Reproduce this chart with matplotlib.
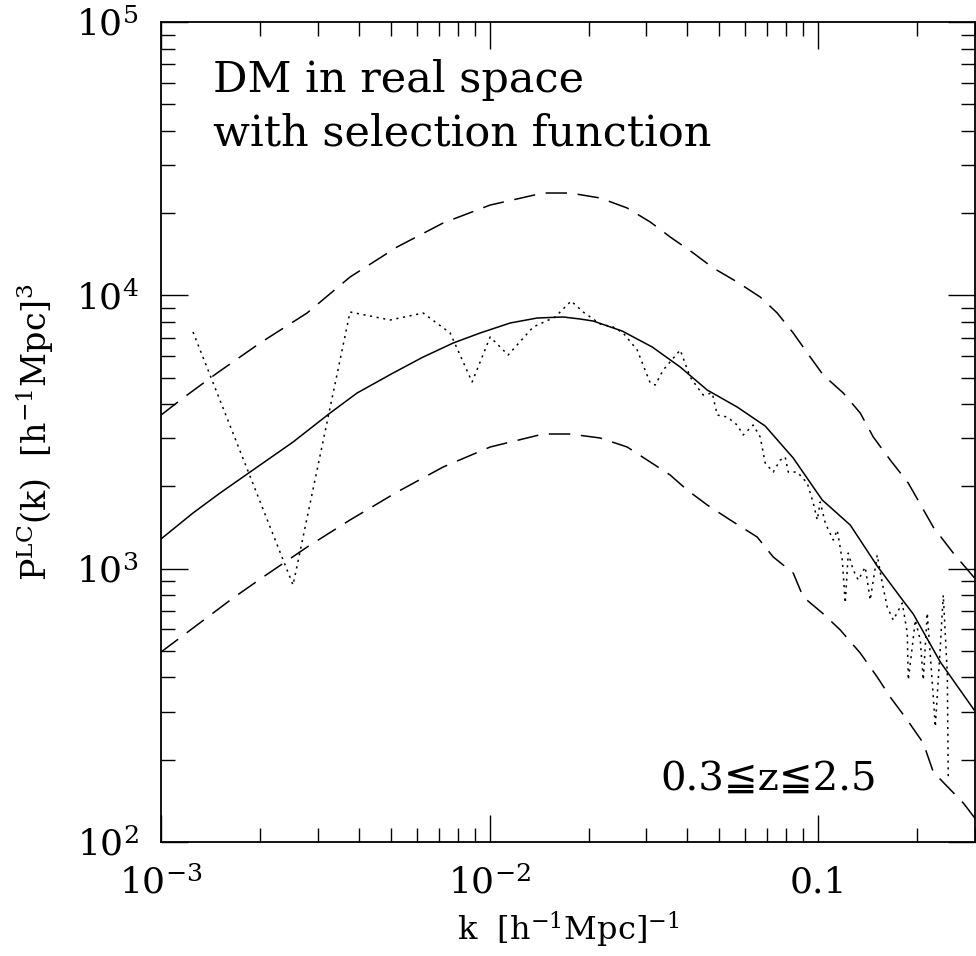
import matplotlib
matplotlib.use("Agg")
import matplotlib.pyplot as plt

plt.rcParams['font.family'] = ['DejaVu Serif', 'DejaVu Sans']
plt.rcParams['mathtext.fontset'] = 'dejavuserif'

# modelo (linea continua)
k_model = [0.001, 0.001251, 0.001512, 0.001866, 0.002522, 0.003269, 0.003951, 0.005083,
           0.006275, 0.007744, 0.009357, 0.011545, 0.013951, 0.016741, 0.018859, 0.020655,
           0.025306, 0.031246, 0.038010, 0.045937, 0.056667, 0.068965, 0.083923, 0.10285,
           0.12515, 0.15118, 0.18148, 0.19458, 0.23518, 0.30269]
p_model = [1285, 1599, 1892, 2258, 2908, 3712, 4395, 5200,
           5950, 6695, 7286, 7925, 8266, 8337, 8196, 8058,
           7408, 6474, 5470, 4506, 3905, 3327, 2541, 1784,
           1445, 1023, 762, 683, 456, 296.5]

# banda superior / inferior (discontinuas)
k_upper = [0.001, 0.001167, 0.001481, 0.002001, 0.002782, 0.003760, 0.005228, 0.007218,
           0.010035, 0.014551, 0.017583, 0.021700, 0.026215, 0.030811, 0.035435, 0.041641,
           0.047918, 0.056667, 0.066578, 0.075026, 0.083923, 0.094537, 0.10356, 0.11915,
           0.13422, 0.14705, 0.16565, 0.18793, 0.22393, 0.25763, 0.30269]
p_upper = [3650, 4213, 5200, 6695, 8621, 11676, 15035, 18404,
           21408, 23692, 23692, 22714, 20882, 18561, 16357, 14296,
           12596, 11195, 9865, 8621, 7286, 5950, 5113, 4395,
           3712, 3034, 2498, 2058, 1420, 1141, 909]

k_lower = [0.001, 0.001656, 0.002044, 0.002782, 0.003760, 0.005228, 0.007218, 0.010035,
           0.014551, 0.017583, 0.021700, 0.026215, 0.030811, 0.035435, 0.039912, 0.045937,
           0.053964, 0.065199, 0.072946, 0.083923, 0.090016, 0.10285, 0.11668, 0.13422,
           0.15118, 0.16565, 0.18661, 0.20874, 0.22393, 0.27640, 0.30269]
p_lower = [495.7, 781, 932, 1200, 1508, 1908, 2356, 2788,
           3111, 3111, 3008, 2788, 2457, 2202, 1941, 1711,
           1508, 1306, 1104, 964, 788, 689, 597, 491.5,
           401.6, 339, 279.6, 230.3, 180.4, 138.9, 120.4]

# medida (linea punteada)
k_data = [0.001251, 0.002522, 0.003760, 0.004978, 0.006275, 0.007583, 0.008844, 0.010035,
          0.011383, 0.013567, 0.015826, 0.017703, 0.019259, 0.021700, 0.023768, 0.025488,
          0.028119, 0.030811, 0.031909, 0.033753, 0.038010, 0.040764, 0.042813, 0.044668,
          0.047577, 0.049271, 0.052845, 0.056667, 0.059105, 0.063387, 0.066578, 0.068965,
          0.072946, 0.076616, 0.079348, 0.081047, 0.086320, 0.092576, 0.096562, 0.099311,
          0.10141, 0.10502, 0.11109, 0.11426, 0.11833, 0.12084, 0.12339, 0.12778,
          0.13235, 0.13899, 0.14394, 0.15118, 0.15656, 0.16218, 0.16916, 0.18019,
          0.18661, 0.18793, 0.19324, 0.19739, 0.20441, 0.20874, 0.21468, 0.22393,
          0.22711, 0.23518, 0.24016, 0.24701, 0.24872]
p_data = [7347, 871.6, 8696, 8128, 8621, 7286, 4822, 7045,
          6053, 7663, 8337, 9539, 8696, 7859, 7663, 7286,
          6313, 4781, 4701, 5334, 6313, 5028, 4622, 4322,
          4395, 3650, 3590, 3356, 3085, 3356, 3034, 2436,
          2258, 2498, 2562, 2258, 2258, 2058, 1740, 1508,
          1754, 1470, 1274, 1385, 1076, 749, 1141, 989,
          909, 1014, 768, 1122, 887, 724, 649, 749,
          582, 391.6, 517, 649, 548, 391.6, 689, 339,
          264, 517, 801, 415, 168.6]

xticks = [1e-3, 1e-2, 0.1]
xticklabels = [r'$10^{-3}$', r'$10^{-2}$', '0.1']
yticks = [1e2, 1e3, 1e4, 1e5]
yticklabels = [r'$10^{2}$', r'$10^{3}$', r'$10^{4}$', r'$10^{5}$']

fig = plt.figure(figsize=(9.76, 9.56), dpi=100)
ax = fig.add_axes([0.165, 0.1192, 0.834, 0.8577])

ax.plot(k_model, p_model, color='black', lw=1.1)
ax.plot(k_upper, p_upper, color='black', lw=1.1, dashes=(14, 7))
ax.plot(k_lower, p_lower, color='black', lw=1.1, dashes=(14, 7))
ax.plot(k_data, p_data, color='black', lw=1.1, dashes=(1.4, 3.0))

ax.set_xscale('log')
ax.set_yscale('log')
ax.set_xlim(1e-3, 0.3)
ax.set_ylim(1e2, 1e5)
ax.set_xticks(xticks)
ax.set_xticklabels(xticklabels)
ax.set_yticks(yticks)
ax.set_yticklabels(yticklabels)

for s in ax.spines.values():
    s.set_linewidth(1.3)
ax.tick_params(which='both', direction='in', top=True, right=True, width=1.0)
ax.tick_params(which='major', length=19.5, labelsize=26)
ax.tick_params(which='minor', length=10)
ax.tick_params(axis='x', which='major', pad=17)
ax.tick_params(axis='y', which='major', pad=16)

ax.set_xlabel(r'k  [h$^{-1}$Mpc]$^{-1}$', fontsize=23, labelpad=7)
ax.set_ylabel(r'P$^{\rm LC}$(k)  [h$^{-1}$Mpc]$^3$', fontsize=24, labelpad=14)

ax.text(0.0635, 0.9146, 'DM in real space', transform=ax.transAxes,
        fontsize=31, va='baseline', ha='left')
ax.text(0.0635, 0.8500, 'with selection function', transform=ax.transAxes,
        fontsize=31, va='baseline', ha='left')
ax.text(0.8796, 0.0634, '0.3≦z≦2.5', transform=ax.transAxes,
        fontsize=29, va='baseline', ha='right')

fig.savefig('out.png', dpi=100)
